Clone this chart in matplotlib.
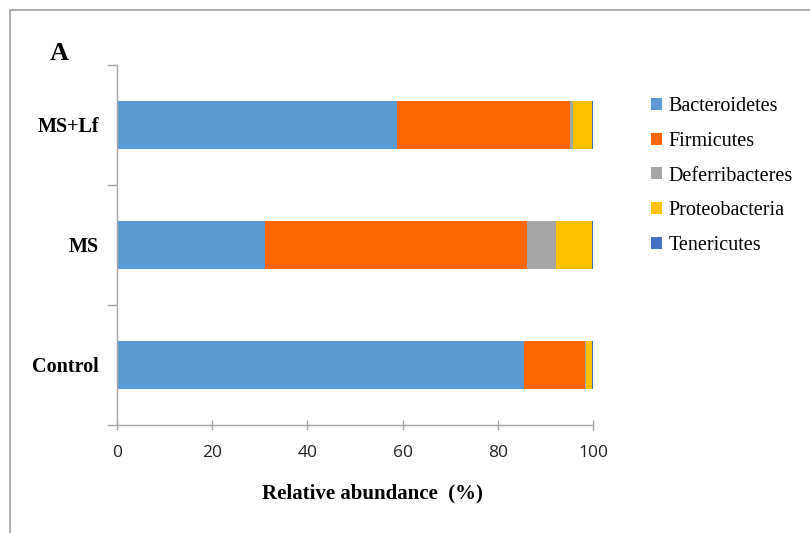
import matplotlib
matplotlib.use("Agg")
import matplotlib.pyplot as plt
from matplotlib.lines import Line2D
from matplotlib.patches import Patch

groups = ["Control", "MS", "MS+Lf"]
phyla = ["Bacteroidetes", "Firmicutes", "Deferribacteres", "Proteobacteria", "Tenericutes"]
bacteroidetes = [85.6, 31.1, 58.8]
firmicutes = [12.8, 55.1, 36.4]
deferribacteres = [0.1, 6.0, 0.6]
proteobacteria = [1.2, 7.5, 4.0]
tenericutes = [0.3, 0.3, 0.2]
xticks = [0, 20, 40, 60, 80, 100]

series = [bacteroidetes, firmicutes, deferribacteres, proteobacteria, tenericutes]
colors = ["#5B9BD5", "#FF6600", "#A5A5A5", "#FFC000", "#4472C4"]

fig = plt.figure(figsize=(8.10, 5.33), dpi=100)
W, H = 810, 533
ax = fig.add_axes([117 / W, 1 - 425 / H, (593 - 117) / W, (425 - 65) / H])

left = [0.0] * len(groups)
for vals, col, name in zip(series, colors, phyla):
    ax.barh(range(len(groups)), vals, left=left, height=0.4, color=col, label=name)
    left = [l + v for l, v in zip(left, vals)]

ax.set_xlim(0, 100)
ax.set_ylim(-0.5, 2.5)
ax.set_xticks(xticks)
ax.set_xticklabels([str(t) for t in xticks], fontsize=12.5, family="Open Sans", color="#222222")
ax.set_yticks([0, 1, 2])
ax.set_yticklabels(groups, fontsize=14.5, family="Liberation Serif", fontweight="bold")
ax.set_yticks([-0.5, 0.5, 1.5, 2.5], minor=True)
ax.tick_params(axis="y", which="major", length=0, pad=13)
ax.tick_params(axis="y", which="minor", length=7, color="#A6A6A6", width=1)
ax.tick_params(axis="x", which="major", length=7, color="#A6A6A6", width=1, direction="inout", pad=11)

for s in ["top", "right"]:
    ax.spines[s].set_visible(False)
for s in ["left", "bottom"]:
    ax.spines[s].set_color("#A6A6A6")
    ax.spines[s].set_linewidth(1)

ax.set_xlabel("Relative abundance  (%)", fontsize=15, family="Liberation Serif",
              fontweight="bold")
ax.xaxis.set_label_coords((372 - 117) / 476, -(493 - 425) / 360)
ax.xaxis.label.set_va("center")

handles = [Patch(facecolor=c, edgecolor="none") for c in colors]
fig.legend(handles, phyla, loc="upper left", bbox_to_anchor=(633 / W, 1 - 79 / H),
           frameon=False, prop={"family": "Liberation Serif", "size": 14.5},
           handlelength=0.55, handleheight=0.55, handletextpad=0.3, labelspacing=0.78)

fig.text(50 / W, 1 - 53 / H, "A", fontsize=19, fontweight="bold", family="Liberation Serif",
         va="center", ha="left")

# outer frame (top and left)
fig.add_artist(Line2D([10 / W, 1.0], [1 - 10 / H, 1 - 10 / H], color="#A0A0A0", lw=1.2,
                      transform=fig.transFigure))
fig.add_artist(Line2D([10 / W, 10 / W], [0.0, 1 - 10 / H], color="#A0A0A0", lw=1.2,
                      transform=fig.transFigure))

fig.savefig("out.png", dpi=100)
